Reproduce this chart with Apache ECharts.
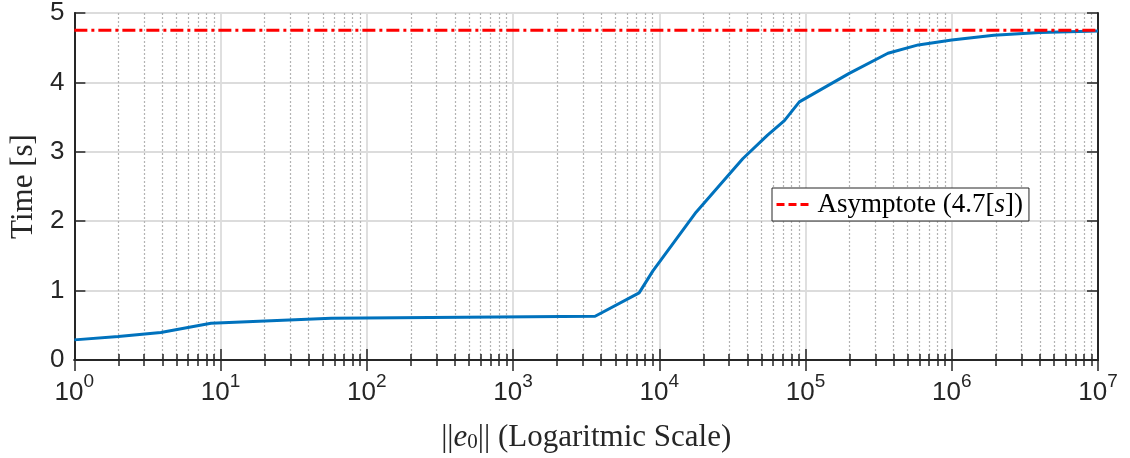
<!DOCTYPE html>
<html>
<head>
<meta charset="utf-8">
<script src="https://cdn.jsdelivr.net/npm/echarts@6/dist/echarts.min.js"></script>
<style>
  html, body { margin: 0; padding: 0; background: #fff; }
  #chart { width: 1130px; height: 458px; }
</style>
</head>
<body>
<div id="chart"></div>
<script>
// values
const errNorm = [1, 2, 3.9, 8.6, 57, 3640, 7280, 9020, 17850, 37200, 55000, 71700, 90700, 199000, 366000, 590000, 1000000, 1940000, 4000000, 10000000];
const timeSec = [0.29, 0.34, 0.395, 0.53, 0.6, 0.63, 0.967, 1.28, 2.13, 2.9, 3.24, 3.45, 3.72, 4.13, 4.42, 4.54, 4.61, 4.68, 4.72, 4.74];
const asymptoteX = [1, 10000000];
const asymptoteY = [4.75, 4.75];
const asymptoteName = "Asymptote (4.7[s])";

const ink = "#262626";
const serif = "'Liberation Serif', 'DejaVu Serif', serif";
const sans = "'Liberation Sans', Arial, sans-serif";

const chart = echarts.init(document.getElementById("chart"));

function logLabel(v) {
  const exp = Math.round(Math.log10(v));
  return "{b|10}{sup|" + exp + "}";
}

const xCommon = {
  type: "log",
  logBase: 10,
  min: 1,
  max: 10000000,
  axisLine: { show: true, lineStyle: { color: ink, width: 2 } },
  axisTick: { show: true, inside: true, length: 11, lineStyle: { color: ink, width: 1.5 } },
  minorTick: { show: true, splitNumber: 9, length: 6, lineStyle: { color: ink, width: 1.5 } }
};

const yCommon = {
  type: "value",
  min: 0,
  max: 5,
  interval: 1,
  axisLine: { show: true, lineStyle: { color: ink, width: 2 } },
  axisTick: { show: true, inside: true, length: 11, lineStyle: { color: ink, width: 1.5 } }
};

chart.setOption({
  animation: false,
  grid: { left: 73, right: 32, top: 11, bottom: 97 },
  legend: {
    data: [{ name: asymptoteName, icon: "inherit" }],
    left: 772,
    top: 188,
    padding: [3, 6, 3, 3],
    itemWidth: 36,
    itemHeight: 14,
    itemGap: 4,
    backgroundColor: "#fff",
    borderColor: ink,
    borderWidth: 1,
    borderRadius: 0,
    itemStyle: { opacity: 0 },
    lineStyle: { type: [8, 4], width: 3 },
    formatter: () => "Asymptote (4.7[{i|s}])",
    textStyle: {
      fontFamily: serif,
      fontSize: 27,
      color: "#000",
      rich: { i: { fontFamily: serif, fontStyle: "italic", fontSize: 27, color: "#000" } }
    }
  },
  xAxis: [
    Object.assign({}, xCommon, {
      position: "bottom",
      name: "||{i|e}{sub|0}|| (Logaritmic Scale)",
      nameLocation: "middle",
      nameGap: 62,
      nameTextStyle: {
        fontFamily: serif,
        fontSize: 31,
        color: ink,
        rich: {
          i: { fontFamily: serif, fontStyle: "italic", fontSize: 31, color: ink },
          sub: { fontFamily: serif, fontSize: 21, color: ink, verticalAlign: "bottom", lineHeight: 24 }
        }
      },
      axisLabel: {
        margin: 12,
        formatter: logLabel,
        rich: {
          b: { fontFamily: sans, fontSize: 26, color: ink, lineHeight: 34, verticalAlign: "bottom" },
          sup: { fontFamily: sans, fontSize: 19, color: ink, lineHeight: 10, verticalAlign: "top" }
        }
      },
      splitLine: { show: true, lineStyle: { color: "#dcdcdc", width: 1.8 } },
      minorSplitLine: { show: true, lineStyle: { color: "#b3b3b3", width: 1.2, type: [2, 2] } }
    }),
    Object.assign({}, xCommon, {
      position: "top",
      axisLabel: { show: false },
      splitLine: { show: false },
      minorSplitLine: { show: false }
    })
  ],
  yAxis: [
    Object.assign({}, yCommon, {
      position: "left",
      name: "Time [s]",
      nameLocation: "middle",
      nameGap: 33,
      nameTextStyle: { fontFamily: serif, fontSize: 31, color: ink },
      axisLabel: { margin: 10, fontFamily: sans, fontSize: 26, color: ink },
      splitLine: { show: true, lineStyle: { color: "#dcdcdc", width: 1.8 } }
    }),
    Object.assign({}, yCommon, {
      position: "right",
      axisLabel: { show: false },
      splitLine: { show: false }
    })
  ],
  series: [
    {
      name: "Settling time",
      type: "line",
      xAxisIndex: 0,
      yAxisIndex: 0,
      data: errNorm.map((x, i) => [x, timeSec[i]]),
      showSymbol: false,
      symbol: "none",
      lineStyle: { color: "#0072BD", width: 3 },
      itemStyle: { color: "#0072BD" },
      z: 3
    },
    {
      name: asymptoteName,
      type: "line",
      xAxisIndex: 0,
      yAxisIndex: 0,
      data: asymptoteX.map((x, i) => [x, asymptoteY[i]]),
      showSymbol: false,
      symbol: "none",
      lineStyle: { color: "#FF0000", width: 3, type: [13, 4, 3, 4] },
      itemStyle: { color: "#FF0000" },
      z: 4
    }
  ]
});
</script>
</body>
</html>
